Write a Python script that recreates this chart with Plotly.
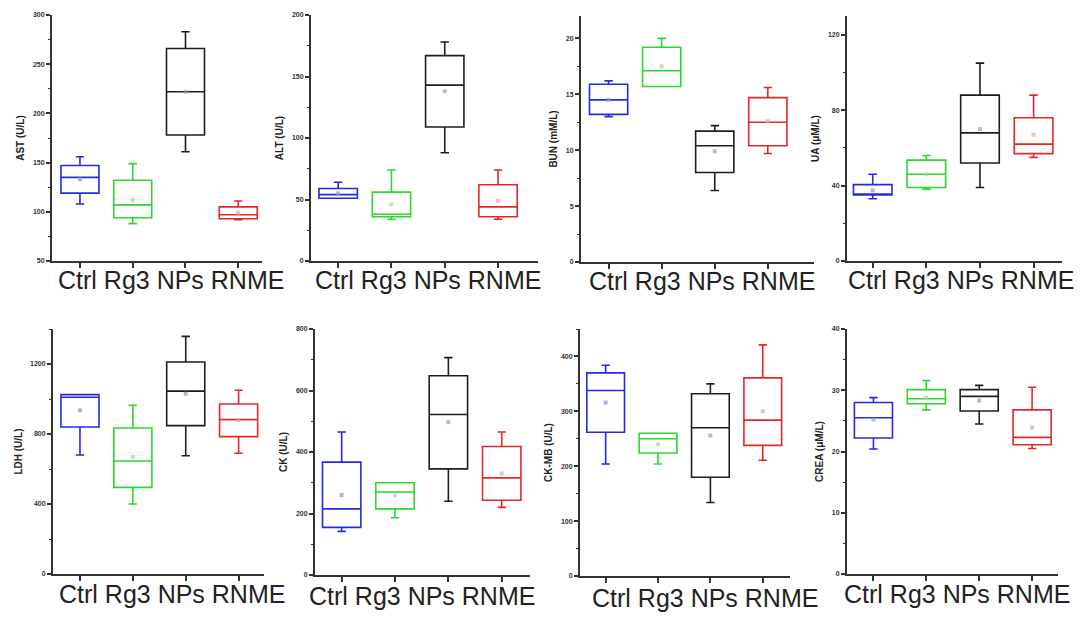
import plotly.graph_objects as go

WIN_W, WIN_H = 1091, 619
OFF = 8  # page body margin of the browser
W, H = WIN_W - OFF, WIN_H - OFF

categories = ["Ctrl", "Rg3", "NPs", "RNME"]
colors = ["rgb(40,40,225)", "rgb(45,215,45)", "rgb(30,30,30)", "rgb(228,40,40)"]
mean_colors = ["rgba(150,150,210,0.7)", "rgba(160,215,160,0.7)", "rgba(160,160,160,0.7)", "rgba(225,165,165,0.7)"]

titles = ["AST (U/L)", "ALT (U/L)", "BUN (mM/L)", "UA (μM/L)",
          "LDH (U/L)", "CK (U/L)", "CK-MB (U/L)", "CREA (μM/L)"]

AST_lower = [108, 88, 161, 92]
AST_q1 = [119, 94, 178, 93]
AST_median = [135, 107, 222, 97]
AST_q3 = [147, 132, 266, 105]
AST_upper = [156, 149, 283, 111]
AST_mean = [133, 112, 222, 99]

ALT_lower = [51, 34, 88, 34]
ALT_q1 = [51, 36, 109, 36]
ALT_median = [54, 38, 143, 44]
ALT_q3 = [59, 56, 167, 62]
ALT_upper = [64, 74, 178, 74]
ALT_mean = [55, 46, 138, 49]

BUN_lower = [13.0, 15.7, 6.4, 9.7]
BUN_q1 = [13.2, 15.7, 8.0, 10.4]
BUN_median = [14.5, 17.1, 10.4, 12.5]
BUN_q3 = [15.9, 19.2, 11.7, 14.7]
BUN_upper = [16.2, 20.0, 12.2, 15.6]
BUN_mean = [14.5, 17.5, 9.9, 12.6]

UA_lower = [33, 38, 39, 55]
UA_q1 = [35, 39, 52, 57]
UA_median = [35.5, 46, 68, 62]
UA_q3 = [40.5, 53.5, 88, 76]
UA_upper = [46, 56, 105, 88]
UA_mean = [37.5, 46, 70, 67]

LDH_lower = [680, 400, 676, 690]
LDH_q1 = [840, 495, 848, 785]
LDH_median = [1010, 646, 1045, 882]
LDH_q3 = [1025, 834, 1211, 971]
LDH_upper = [1025, 964, 1358, 1050]
LDH_mean = [935, 669, 1030, 880]

CK_lower = [142, 186, 240, 220]
CK_q1 = [155, 215, 345, 243]
CK_median = [215, 270, 522, 316]
CK_q3 = [367, 300, 648, 418]
CK_upper = [465, 300, 707, 465]
CK_mean = [260, 258, 497, 330]

CKMB_lower = [204, 204, 134, 211]
CKMB_q1 = [262, 224, 180, 238]
CKMB_median = [338, 250, 270, 284]
CKMB_q3 = [370, 260, 332, 361]
CKMB_upper = [384, 260, 350, 421]
CKMB_mean = [316, 240, 256, 300]

CREA_lower = [20.4, 26.8, 24.5, 20.5]
CREA_q1 = [22.2, 27.8, 26.6, 21.1]
CREA_median = [25.5, 28.6, 29.0, 22.3]
CREA_q3 = [28.0, 30.1, 30.1, 26.8]
CREA_upper = [28.8, 31.6, 30.8, 30.5]
CREA_mean = [25.2, 28.8, 28.3, 23.9]

panels_data = [
    (AST_lower, AST_q1, AST_median, AST_q3, AST_upper, AST_mean),
    (ALT_lower, ALT_q1, ALT_median, ALT_q3, ALT_upper, ALT_mean),
    (BUN_lower, BUN_q1, BUN_median, BUN_q3, BUN_upper, BUN_mean),
    (UA_lower, UA_q1, UA_median, UA_q3, UA_upper, UA_mean),
    (LDH_lower, LDH_q1, LDH_median, LDH_q3, LDH_upper, LDH_mean),
    (CK_lower, CK_q1, CK_median, CK_q3, CK_upper, CK_mean),
    (CKMB_lower, CKMB_q1, CKMB_median, CKMB_q3, CKMB_upper, CKMB_mean),
    (CREA_lower, CREA_q1, CREA_median, CREA_q3, CREA_upper, CREA_mean),
]

# layout: window-pixel boxes (x0, x1, ytop, ybottom), y ranges, y ticks, x ranges
boxes = [(52, 262, 15, 261), (311, 538, 15, 261), (581, 814, 16, 262), (847, 1062, 16, 261),
         (53, 264, 329, 574), (315, 530, 329, 575), (580, 790, 329, 576), (847, 1058, 329, 574)]
yranges = [[50, 300], [0, 200], [0, 22], [0, 130], [0, 1400], [0, 800], [0, 450], [0, 40]]
ydticks = [50, 50, 5, 40, 400, 200, 100, 10]
xranges = [[-0.53, 3.45], [-0.51, 3.75], [-0.52, 3.87], [-0.48, 3.53],
           [-0.51, 3.48], [-0.5, 3.53], [-0.49, 3.52], [-0.5, 3.49]]
# centre of the category-label row under each panel (window pixels)
label_pos = [(171, 280), (428, 280), (702, 281), (961, 280),
             (172, 594), (422, 596), (705, 598), (957, 594)]


def fx(px):
    return (px - OFF) / W


def fy(py):
    return 1 - (py - OFF) / H


fig = go.Figure()
layout = dict(width=W, height=H, margin=dict(l=0, r=0, t=0, b=0, autoexpand=False),
              paper_bgcolor="white", plot_bgcolor="white", showlegend=False,
              font=dict(family="Arial, Liberation Sans, sans-serif"))
annotations = []

for p, (lo, q1, med, q3, up, mn) in enumerate(panels_data):
    k = "" if p == 0 else str(p + 1)
    xa, ya = "x" + k, "y" + k
    for i in range(4):
        fig.add_trace(go.Box(
            x=[i], q1=[q1[i]], median=[med[i]], q3=[q3[i]],
            lowerfence=[lo[i]], upperfence=[up[i]],
            width=0.72, whiskerwidth=0.22, boxpoints=False,
            line=dict(color=colors[i], width=1.6), fillcolor="rgba(0,0,0,0)",
            xaxis=xa, yaxis=ya, hoverinfo="skip"))
        fig.add_trace(go.Scatter(
            x=[i], y=[mn[i]], mode="markers",
            marker=dict(symbol="square", size=4, color=mean_colors[i]),
            xaxis=xa, yaxis=ya, hoverinfo="skip"))
    x0, x1, yt, yb = boxes[p]
    layout["xaxis" + k] = dict(
        domain=[fx(x0), fx(x1)], range=xranges[p], anchor=ya, automargin=False,
        tickvals=[0, 1, 2, 3], ticktext=categories, showticklabels=False,
        ticks="outside", ticklen=5, tickwidth=1.5, tickcolor="#333",
        showline=True, linecolor="#333", linewidth=2, showgrid=False, zeroline=False)
    layout["yaxis" + k] = dict(
        domain=[fy(yb), fy(yt)], range=yranges[p], anchor=xa, automargin=False,
        dtick=ydticks[p], tick0=0, ticks="outside", ticklen=4, tickwidth=1.5, tickcolor="#333",
        minor=dict(ticks="outside", ticklen=2, dtick=ydticks[p] / 2, tickcolor="#333", tickwidth=1),
        tickfont=dict(size=7, color="#333", weight="bold"),
        title=dict(text=titles[p], font=dict(size=10, color="#222", weight="bold"), standoff=6),
        showline=True, linecolor="#333", linewidth=2, showgrid=False, zeroline=False)
    lx, ly = label_pos[p]
    annotations.append(dict(
        text=" ".join(categories), xref="paper", yref="paper",
        x=fx(lx), y=fy(ly), xanchor="center", yanchor="middle", showarrow=False,
        font=dict(size=25, color="#222", family="Arial, Liberation Sans, sans-serif")))

layout["annotations"] = annotations
fig.update_layout(**layout)
fig.write_html("out.html")
